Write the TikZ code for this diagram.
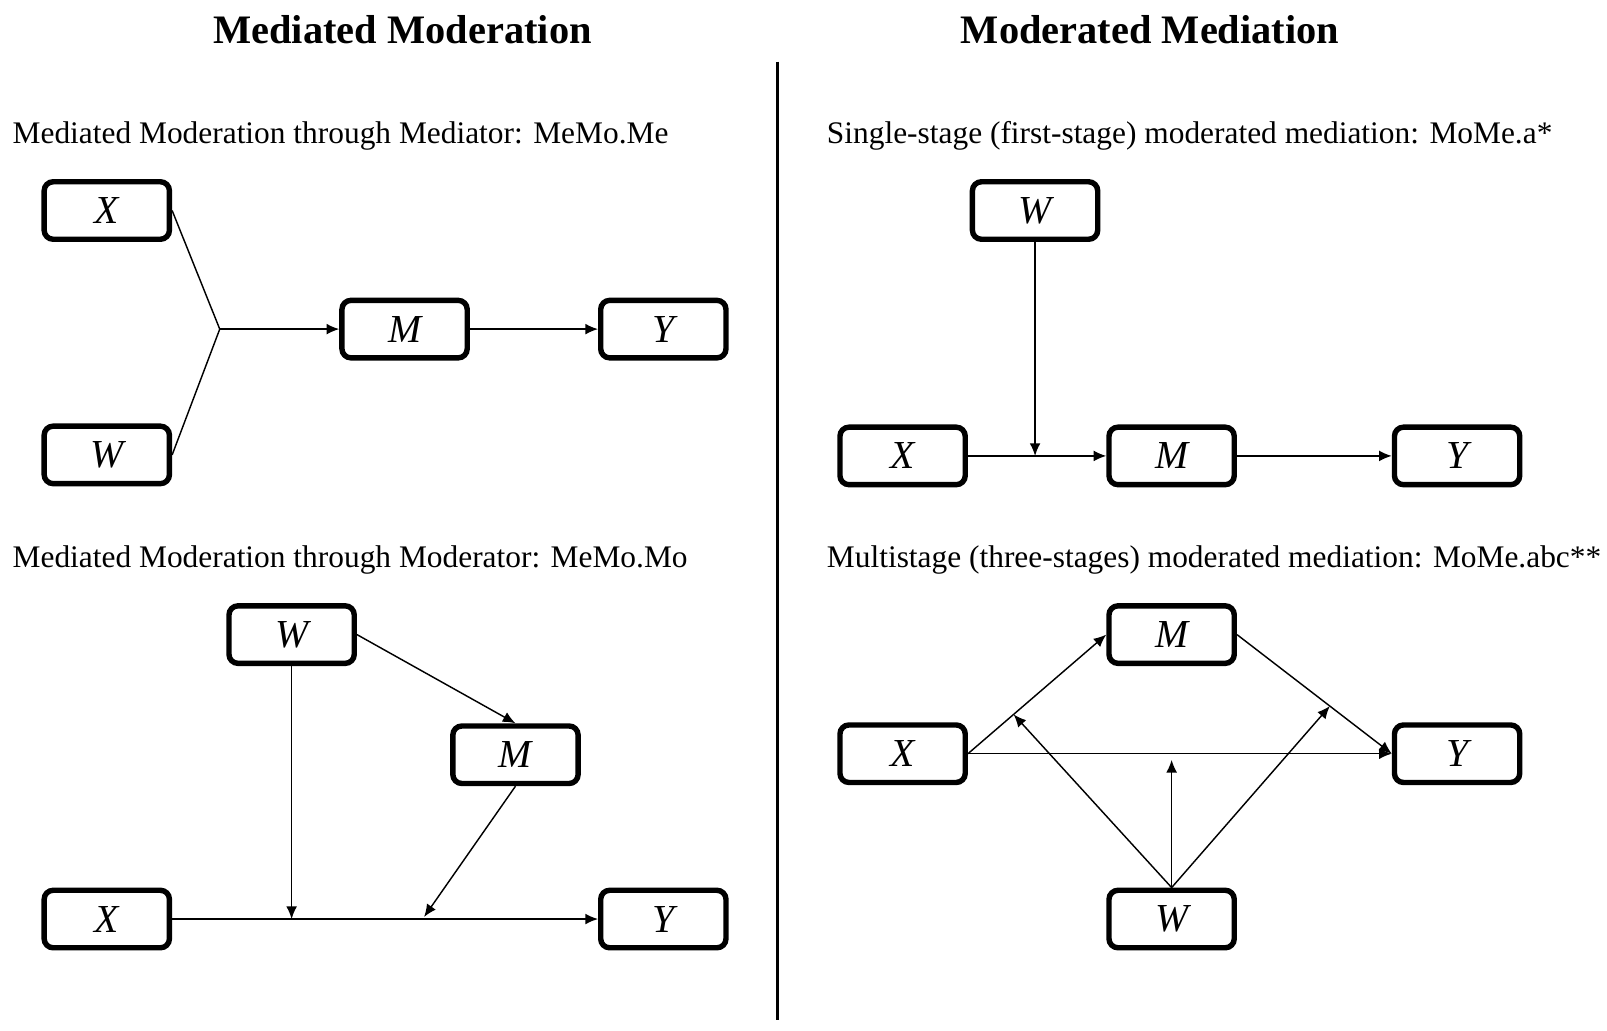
\documentclass[tikz,border=0pt]{standalone}
\usepackage{fontspec}
\setmainfont{Liberation Serif}
\usetikzlibrary{arrows.meta,calc}

\begin{document}
\begin{tikzpicture}
	 [x=1cm,y=-1cm,
	  box/.style={draw,rounded corners=5pt,line width=3pt,minimum width=2.44cm,minimum height=1.12cm,inner sep=0pt,font=\fontsize{22}{25}\selectfont\itshape},
	  arr/.style={-{Latex[length=7pt,width=6pt]},line width=0.8pt},
	  ln/.style={line width=0.8pt},
	  head/.style={font=\fontsize{22.4}{26}\selectfont\bfseries,anchor=base},
	  sub/.style={font=\fontsize{17.4}{20}\selectfont,anchor=base west,inner sep=0pt}]
	\useasboundingbox (0,0) rectangle (31.3,20.08);

	\node[head] (t1) at (7.84,0.84) {Mediated Moderation};
	\node[head] (t2) at (22.4,0.84) {Moderated Mediation};
	\coordinate (d1) at (15.14,1.2);
	\coordinate (d2) at (15.14,19.86);
	\draw[line width=1.4pt] (d1) -- (d2);

	% through mediator
	\node[sub] (s1) at (0.24,2.8) {Mediated Moderation through Mediator: MeMo.Me};
	  \node[box] (x1) at (2.08,4.1) {X};
	  \node[box] (w1) at (2.08,8.86) {W};
	  \node[box] (m1) at (7.88,6.41) {M};
	  \node[box] (y1) at (12.92,6.41) {Y};
	\coordinate (j1) at (4.28,6.41);

	\foreach \from/\to in {x1.east/j1,w1.east/j1}
    \draw[ln] (\from) -- (\to);
	\foreach \from/\to in {j1/m1,m1/y1}
    \draw[arr] (\from) -- (\to);

	% first stage
	\node[sub] (s2) at (16.1,2.8) {Single-stage (first-stage) moderated mediation: MoMe.a*};
	  \node[box] (w2) at (20.16,4.1) {W};
	  \node[box] (x2) at (17.58,8.88) {X};
	  \node[box] (m2) at (22.82,8.88) {M};
	  \node[box] (y2) at (28.38,8.88) {Y};
	\coordinate (j2) at (w2 |- x2);

	\foreach \from/\to in {w2/j2,x2/m2,m2/y2}
    \draw[arr] (\from) -- (\to);

	% through moderator
	\node[sub] (s3) at (0.24,11.06) {Mediated Moderation through Moderator: MeMo.Mo};
	  \node[box] (w3) at (5.68,12.36) {W};
	  \node[box] (m3) at (10.04,14.7) {M};
	  \node[box] (x3) at (2.08,17.9) {X};
	  \node[box] (y3) at (12.92,17.9) {Y};
	\coordinate (j3) at (w3.south |- x3);
	\coordinate (k3) at (8.26,17.86);

	\foreach \from/\to in {w3.south/j3,w3.east/m3.north,m3.south/k3,x3/y3}
    \draw[arr] (\from) -- (\to);

	% three stages
	\node[sub] (s4) at (16.1,11.06) {Multistage (three-stages) moderated mediation: MoMe.abc**};
	  \node[box] (m4) at (22.82,12.36) {M};
	  \node[box] (x4) at (17.58,14.68) {X};
	  \node[box] (y4) at (28.38,14.68) {Y};
	  \node[box] (w4) at (22.82,17.9) {W};
	\coordinate (a4) at ($(x4.east)!0.33!(m4.west)$);
	\coordinate (b4) at ($(w4.north |- x4)+(0,0.12)$);
	\coordinate (c4) at ($(m4.east)!0.6!(y4.west)$);

	\foreach \from/\to in {x4.east/m4.west,m4.east/y4.west,x4/y4,w4.north/a4,w4.north/b4,w4.north/c4}
    \draw[arr] (\from) -- (\to);

\end{tikzpicture}
\end{document}
